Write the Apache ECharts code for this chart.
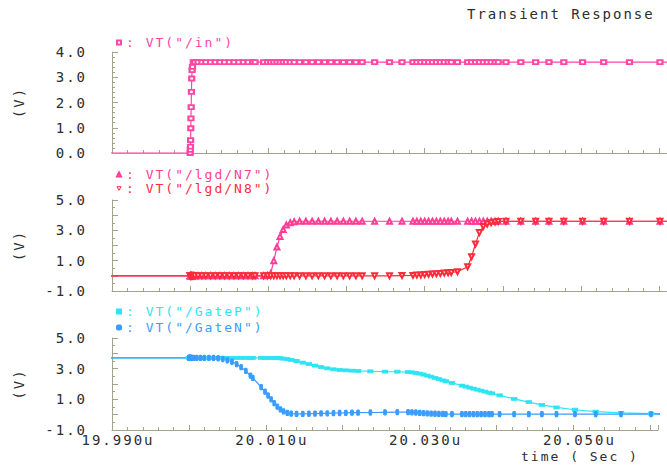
<!DOCTYPE html>
<html><head><meta charset="utf-8">
<script src="https://cdn.jsdelivr.net/npm/echarts@6/dist/echarts.min.js"></script>
<style>
html,body{margin:0;padding:0;background:#fff;}
#c{width:667px;height:466px;}
#c text{letter-spacing:2px;}
</style></head><body><div id="c"></div>
<script>
// shared simulation time points (µs)
const time = [19.980,
 20.00000,20.00002,20.00004,20.00006,20.00008,20.00010,20.00013,20.00016,20.00020,20.00025,20.00030,20.00040,
 20.0006,20.0010,20.0015,20.0020,20.0026,20.0032,20.0038,20.0044,20.0050,20.0056,20.0062,20.0068,20.0074,20.0080,20.0083,
 20.0094,20.0099,20.0103,20.0107,20.0111,20.0115,20.0119,20.0123,20.0128,20.0133,
 20.0140,20.0148,20.0156,20.0164,20.0172,20.0180,20.0188,20.0196,20.0204,20.0212,20.0220,
 20.0236,20.0255,20.0271,
 20.0285,20.0290,20.0295,20.0300,20.0305,20.0310,20.0315,20.0320,20.0325,20.0330,20.0334,20.0342,
 20.0355,20.0360,20.0365,20.0370,20.0375,20.0380,20.0385,20.0390,20.0394,
 20.0404,20.0423,20.0442,20.0459,20.0478,20.0502,20.0529,20.0562,20.0601,20.0650];

const vIn = [0,
 0,0.12,0.25,0.51,0.98,1.37,1.82,2.42,2.95,3.28,3.41,3.6,
 3.6,3.6,3.6,3.6,3.6,3.6,3.6,3.6,3.6,3.6,3.6,3.6,3.6,3.6,3.6,
 3.6,3.6,3.6,3.6,3.6,3.6,3.6,3.6,3.6,3.6,
 3.6,3.6,3.6,3.6,3.6,3.6,3.6,3.6,3.6,3.6,3.6,
 3.6,3.6,3.6,
 3.6,3.6,3.6,3.6,3.6,3.6,3.6,3.6,3.6,3.6,3.6,3.6,
 3.6,3.6,3.6,3.6,3.6,3.6,3.6,3.6,3.6,
 3.6,3.6,3.6,3.6,3.6,3.6,3.6,3.6,3.6,3.6];

const vN7 = [0,
 0,0,0,0,0,0,0,0,0,0,0,0,
 0,0,0,0,0,0,0,0,0,0,0,0,0,0,0,
 0,0.02,0.15,1.0,1.9,2.6,3.05,3.35,3.5,3.57,
 3.6,3.6,3.6,3.6,3.6,3.6,3.6,3.6,3.6,3.6,3.6,
 3.6,3.6,3.6,
 3.6,3.6,3.6,3.6,3.6,3.6,3.6,3.6,3.6,3.6,3.6,3.6,
 3.6,3.6,3.6,3.6,3.6,3.6,3.6,3.6,3.6,
 3.6,3.6,3.6,3.6,3.6,3.6,3.6,3.6,3.6,3.6];

const vN8 = [0,
 0,0,0,0,0,0,0,0,0,0,0,0,
 0,0,0,0,0,0,0,0,0,0,0,0,0,0,0,
 0,0,0,0,0,0,0,0,0,0,
 0,0,0,0,0,0,0,0,0,0,0,
 0,0,0.02,
 0.03,0.05,0.06,0.08,0.1,0.12,0.14,0.16,0.18,0.2,0.22,0.27,
 0.6,1.26,2.1,2.85,3.25,3.42,3.5,3.55,3.58,
 3.6,3.6,3.6,3.6,3.6,3.6,3.6,3.6,3.6,3.6];

const vGateP = [3.7,
 3.7,3.7,3.7,3.7,3.7,3.7,3.7,3.7,3.7,3.7,3.7,3.7,
 3.7,3.7,3.7,3.7,3.7,3.7,3.7,3.7,3.7,3.7,3.7,3.7,3.7,3.7,3.7,
 3.7,3.7,3.7,3.7,3.7,3.7,3.68,3.66,3.62,3.58,
 3.5,3.4,3.3,3.2,3.1,3.02,2.96,2.92,2.89,2.87,2.85,
 2.83,2.81,2.8,
 2.78,2.76,2.73,2.68,2.62,2.55,2.48,2.4,2.32,2.24,2.18,2.07,
 1.9,1.83,1.76,1.7,1.63,1.57,1.5,1.44,1.39,
 1.26,1.03,0.82,0.64,0.47,0.32,0.2,0.12,0.07,0.05];

const vGateN = [3.7,
 3.7,3.7,3.7,3.7,3.7,3.7,3.7,3.7,3.7,3.7,3.7,3.7,
 3.7,3.7,3.7,3.7,3.7,3.7,3.68,3.63,3.55,3.45,3.3,3.1,2.85,2.55,2.4,
 1.8,1.5,1.25,1.0,0.75,0.52,0.35,0.22,0.12,0.07,
 0.05,0.05,0.06,0.07,0.08,0.09,0.1,0.11,0.12,0.13,0.13,
 0.14,0.15,0.16,
 0.16,0.15,0.14,0.12,0.1,0.08,0.07,0.06,0.05,0.05,0.04,0.04,
 0.04,0.04,0.04,0.04,0.04,0.04,0.04,0.04,0.04,
 0.04,0.04,0.04,0.04,0.04,0.04,0.04,0.04,0.04,0.04];

const xLabelValues = [19.990, 20.010, 20.030, 20.050];
const yLabelsTop = [0, 1, 2, 3, 4];
const yLabelsLower = [-1, 1, 3, 5];
const yTicksTop = [0, 4];      // min, max of top panel
const yTicksLower = [-1, 5];   // min, max of lower panels

const names = ['VT("/in")','VT("/lgd/N7")','VT("/lgd/N8")','VT("/GateP")','VT("/GateN")'];
const colors = ['#ff45a5','#ff3d96','#ff2b3b','#2ee4f2','#3a9cff'];

const FONT = '"DejaVu Sans Mono", monospace';
const AX = '#a3a38a';
const TXT = '#2d2d2d';

function pairs(v){ return time.map((t,i)=>[t, v[i]]); }

function xAxis(i){
  return {
    gridIndex:i, type:'value', min:19.99, max:20.061, interval:0.01,
    axisLine:{onZero:false, lineStyle:{color:AX, width:1}},
    axisTick:{show:true, inside:true, length:5, interval:0, lineStyle:{color:AX}},
    minorTick:{show:true, splitNumber:5, length:3, lineStyle:{color:AX}},
    splitLine:{show:false}, minorSplitLine:{show:false},
    axisLabel:{show:i===2, interval:0, margin:3, color:TXT, fontFamily:FONT, fontSize:14, lineHeight:14,
      padding:[0,0,0,12],
      formatter:v=>xLabelValues.some(x=>Math.abs(x-v)<1e-6) ? v.toFixed(3)+'u' : ''}
  };
}
function yAxis(i, ext, minorSplit, labels){
  return {
    gridIndex:i, type:'value', min:ext[0], max:ext[1], interval:1,
    name:'(V)', nameLocation:'middle', nameGap:86,
    nameTextStyle:{color:TXT, fontFamily:FONT, fontSize:14},
    axisLine:{show:true, onZero:false, lineStyle:{color:AX, width:1}},
    axisTick:{show:true, inside:true, length:6, interval:0, lineStyle:{color:AX}},
    minorTick:{show:true, splitNumber:minorSplit, length:3, lineStyle:{color:AX}},
    splitLine:{show:false}, minorSplitLine:{show:false},
    axisLabel:{margin:25, color:TXT, fontFamily:FONT, fontSize:14,
      verticalAlign:'middle', padding:[0,0,9,0],
      formatter:v=>labels.some(l=>Math.abs(l-v)<1e-6) ? v.toFixed(1) : ''}
  };
}
function series(k, gi, symbol, size, extra){
  return Object.assign({
    name:names[k], type:'line', xAxisIndex:gi, yAxisIndex:gi,
    data:pairs([vIn,vN7,vN8,vGateP,vGateN][k]),
    symbol:symbol, symbolSize:size, showAllSymbol:true, clip:true,
    lineStyle:{color:colors[k], width:1.2},
    itemStyle:{color:colors[k], borderColor:colors[k], borderWidth:1},
    silent:true, animation:false
  }, extra||{});
}
function legend(top, gap, items){
  return {left:116, top:top, orient:'vertical', itemWidth:4, itemHeight:4, itemGap:gap,
    padding:0, selectedMode:false, symbolRotate:0,
    formatter:n=>': '+n,
    textStyle:{fontFamily:FONT, fontSize:13},
    data:items};
}

const chart = echarts.init(document.getElementById('c'), null, {renderer:'svg'});
chart.setOption({
  animation:false,
  backgroundColor:'#fff',
  title:{text:'Transient Response', left:462, top:2,
    textStyle:{color:TXT, fontFamily:FONT, fontSize:14, fontWeight:'normal'}},
  legend:[
    legend(36, 0, [{name:names[0], icon:'emptyRect', textStyle:{color:colors[0]}}]),
    legend(168, 1, [
      {name:names[1], icon:'emptyTriangle', textStyle:{color:colors[1]}},
      {name:names[2], icon:'path://M0,0L10,0L5,9Z', itemStyle:{color:'#fff', borderColor:colors[2], borderWidth:1}, textStyle:{color:colors[2]}}]),
    legend(305, 3, [
      {name:names[3], icon:'rect', textStyle:{color:colors[3]}},
      {name:names[4], icon:'roundRect', textStyle:{color:colors[4]}}])
  ],
  grid:[
    {left:112, right:0, top:52, height:101},
    {left:112, right:0, top:200, height:91},
    {left:112, right:0, top:338, height:92}
  ],
  xAxis:[xAxis(0), xAxis(1), xAxis(2)],
  yAxis:[yAxis(0, yTicksTop, 5, yLabelsTop), yAxis(1, yTicksLower, 2, yLabelsLower), yAxis(2, yTicksLower, 2, yLabelsLower)],
  graphic:[{type:'text', left:521, top:450, silent:true,
    style:{text:'time ( Sec )', fill:TXT, font:'13px "DejaVu Sans Mono", monospace'}}],
  series:[
    series(0, 0, 'emptyRect', [5,4]),
    series(1, 1, 'emptyTriangle', 5),
    series(2, 1, 'emptyTriangle', 5, {symbolRotate:180}),
    series(3, 2, 'rect', [5,3]),
    series(4, 2, 'roundRect', [3,5])
  ]
});
</script></body></html>
